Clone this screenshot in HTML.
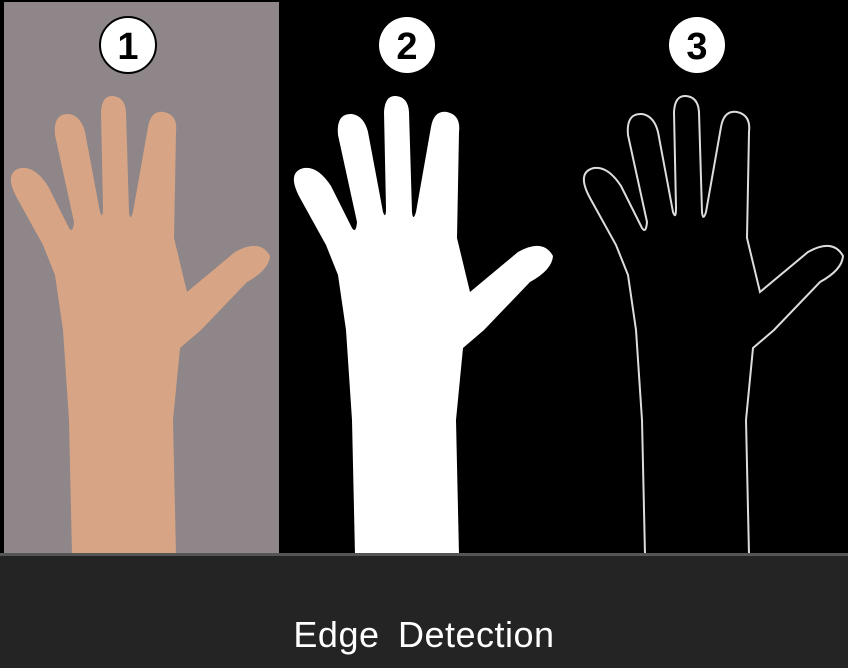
<!DOCTYPE html>
<html>
<head>
<meta charset="utf-8">
<style>
  html,body{margin:0;padding:0;background:#242424;}
  body{width:848px;height:668px;overflow:hidden;position:relative;font-family:"Liberation Sans",sans-serif;}
  svg{position:absolute;left:0;top:0;}
  .caption{position:absolute;left:0;width:848px;top:614px;text-align:center;color:#fff;font-size:36px;letter-spacing:0.5px;word-spacing:8px;}
</style>
</head>
<body>
<svg width="848" height="668" viewBox="0 0 848 668">
  <defs>
    <path id="hand" d="M355,555 L352,420 L346,330 L338,275 L326,245 L300,198 Q286,172 304,168 Q318,166 331,186 L352,228 Q356,234 357,222 L338,135 Q336,113 352,114 Q364,116 368,132 L383,212 Q386,220 386,208 L384,112 Q385,95 396,96 Q408,97 409,112 L412,212 Q413,222 416,212 L431,127 Q434,110 447,112 Q461,115 459,132 L457,238 L470,292 L518,252 Q543,238 553,256 Q552,270 530,282 L484,330 L463,348 L456,420 L459,555"/>
  </defs>
  <rect x="0" y="0" width="848" height="556" fill="#000"/>
  <rect x="4" y="2" width="275" height="551" fill="#8e8688"/>
  <use href="#hand" transform="translate(-283,0)" fill="#d7a585"/>
  <use href="#hand" fill="#fff"/>
  <use href="#hand" transform="translate(290,0)" fill="none" stroke="#ddd" stroke-width="2"/>
  <rect x="0" y="553" width="848" height="3" fill="#555"/>
  <g font-family="Liberation Sans, sans-serif" font-weight="bold" font-size="38" text-anchor="middle">
    <circle cx="128" cy="45" r="28" fill="#fff" stroke="#000" stroke-width="2"/>
    <text x="128" y="59" fill="#000">1</text>
    <circle cx="407" cy="45" r="28" fill="#fff"/>
    <text x="407" y="59" fill="#000">2</text>
    <circle cx="697" cy="45" r="28" fill="#fff"/>
    <text x="697" y="59" fill="#000">3</text>
  </g>
</svg>
<div class="caption">Edge Detection</div>
</body>
</html>
